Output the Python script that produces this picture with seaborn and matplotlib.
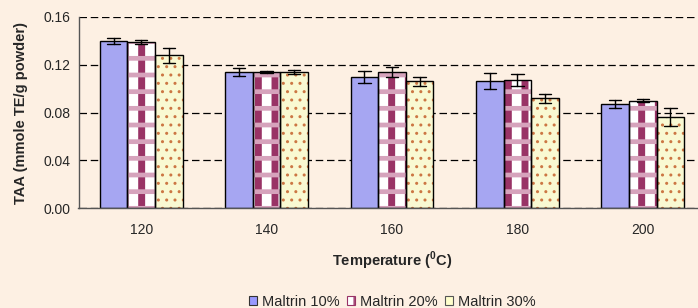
import numpy as np
import pandas as pd
import matplotlib
matplotlib.use("Agg")
import matplotlib.pyplot as plt
from matplotlib.patches import Patch, Rectangle
from matplotlib.ticker import FormatStrFormatter
import seaborn as sns

# data
temperatures = ["120", "140", "160", "180", "200"]
series = ["Maltrin 10%", "Maltrin 20%", "Maltrin 30%"]
taa_10 = [0.140, 0.114, 0.110, 0.106, 0.087]
err_10 = [0.0025, 0.0036, 0.005, 0.0067, 0.0032]
taa_20 = [0.139, 0.114, 0.114, 0.107, 0.090]
err_20 = [0.0017, 0.001, 0.0042, 0.005, 0.0015]
taa_30 = [0.128, 0.114, 0.106, 0.092, 0.076]
err_30 = [0.0063, 0.0018, 0.0038, 0.0038, 0.0075]

# two rows per bar (mean -/+ error) so seaborn draws mean and range
rows = []
for name, means, errs in zip(series, [taa_10, taa_20, taa_30], [err_10, err_20, err_30]):
    for t, m, e in zip(temperatures, means, errs):
        rows.append({"temp": t, "series": name, "taa": m - e})
        rows.append({"temp": t, "series": name, "taa": m + e})
df = pd.DataFrame(rows)

bg = "#FDF0E3"
sns.set_style("white")
plt.rcParams["font.family"] = ["Liberation Sans", "DejaVu Sans"]
plt.rcParams["mathtext.fontset"] = "custom"
plt.rcParams["mathtext.rm"] = "Liberation Sans:bold"
plt.rcParams["mathtext.bf"] = "Liberation Sans:bold"

fig = plt.figure(figsize=(6.98, 3.08), dpi=100, facecolor=bg)
ax = fig.add_axes([78.5 / 698, 100 / 308, 627 / 698, 191 / 308])
ax.set_facecolor(bg)

sns.barplot(data=df, x="temp", y="taa", hue="series", order=temperatures,
            hue_order=series, width=0.66, gap=0,
            palette=["#9999FF", "#FFFFFF", "#FFFFCC"],
            errorbar=lambda v: (v.min(), v.max()), capsize=0.3,
            err_kws={"color": "black", "linewidth": 1.0},
            legend=False, ax=ax)

# hatch layers per series: (hatch, colour, hatch linewidth)
layers = [[],
          [("|", "#993366", 5.0), ("-", "#D6A3BC", 3.4)],
          [("..", "#CC7744", 1.0)]]


def overlay(p, hatch, color, hlw, z):
    with plt.rc_context({"hatch.linewidth": hlw}):
        r = Rectangle(p.get_xy(), p.get_width(), p.get_height(), fill=False,
                      ec=color, lw=0, hatch=hatch, zorder=z)
    if hasattr(r, "set_hatch_linewidth"):
        r.set_hatch_linewidth(hlw)
    ax.add_patch(r)


for cont, lays in zip(ax.containers, layers):
    for p in cont:
        p.set_linewidth(0)
        p.set_zorder(1.5)
        for i, (h, c, hlw) in enumerate(lays):
            overlay(p, h, c, hlw, 1.51 + i * 0.01)
        ax.add_patch(Rectangle(p.get_xy(), p.get_width(), p.get_height(),
                               fill=False, ec="black", lw=1.0, zorder=1.6))

ax.set_axisbelow(True)
ax.set_xlim(-0.5, 4.5)
ax.set_ylim(0, 0.16)
ax.set_yticks(np.arange(0, 0.161, 0.04))
ax.yaxis.set_major_formatter(FormatStrFormatter("%.2f"))
ax.yaxis.grid(True, color="black", linestyle=(0, (6, 3)), linewidth=0.9)
ax.set_xticks(np.arange(-0.5, 4.6, 1), minor=True)
ax.tick_params(axis="x", which="major", length=0, pad=11, labelsize=10)
ax.tick_params(axis="x", which="minor", length=4, color="#555555", direction="out")
ax.tick_params(axis="y", length=4, color="#555555", direction="out", labelsize=10, pad=2)

for side in ["top", "right"]:
    ax.spines[side].set_visible(False)
for side in ["left", "bottom"]:
    ax.spines[side].set_color("#555555")
    ax.spines[side].set_linewidth(1.0)

ax.set_xlabel(r"Temperature ($^{0}$C)", fontsize=10.5, fontweight="bold")
ax.xaxis.set_label_coords(0.5, -0.22)
ax.set_ylabel("TAA (mmole TE/g powder)", fontsize=10.5, fontweight="bold")
ax.yaxis.set_label_coords(-0.08, 0.5)

handles = [Patch(facecolor="#9999FF", edgecolor="#333333", linewidth=0.8),
           Patch(facecolor="white", edgecolor="#993366", hatch="||", linewidth=0.8),
           Patch(facecolor="#FFFFCC", edgecolor="#555555", linewidth=0.8)]
fig.legend(handles, series, loc="center", bbox_to_anchor=(392 / 698, 1 - 302 / 308),
           ncol=3, frameon=False, fontsize=10.5, handlelength=0.6, handleheight=0.6,
           handletextpad=0.3, columnspacing=0.5, borderpad=0)

fig.savefig("out.png", dpi=100, facecolor=bg)
